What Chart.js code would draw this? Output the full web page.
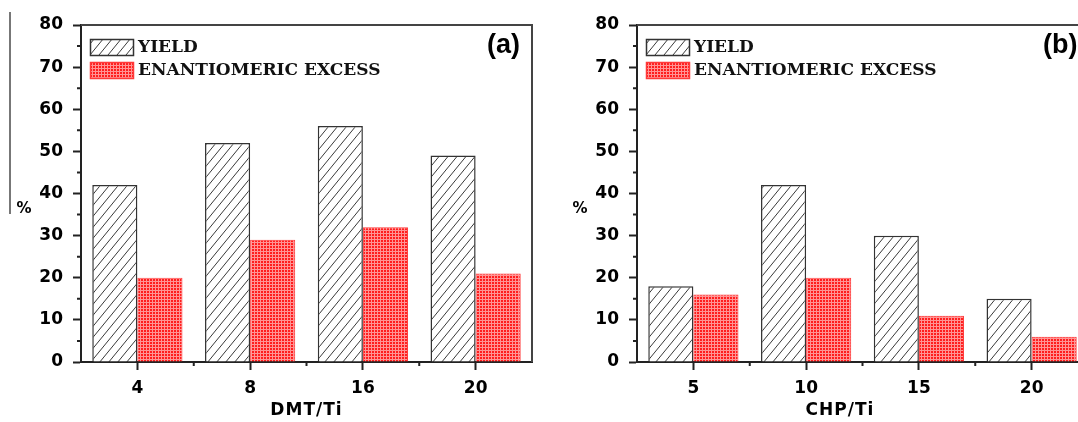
<!DOCTYPE html>
<html>
<head>
<meta charset="utf-8">
<script src="https://cdn.jsdelivr.net/npm/chart.js@4.4.1/dist/chart.umd.min.js"></script>
<style>
  html, body { margin: 0; padding: 0; background: #fff; overflow: hidden; width: 1078px; height: 422px; }
  .panel { position: absolute; top: 0; width: 545px; height: 422px; }
  #pa { left: 0; }
  #pb { left: 556px; }
</style>
</head>
<body>
<div class="panel" id="pa"><canvas id="ca" width="545" height="422"></canvas></div>
<div class="panel" id="pb"><canvas id="cb" width="545" height="422"></canvas></div>
<script>
// Series names shared by both panels
const seriesNames = ['YIELD', 'ENANTIOMERIC EXCESS'];

// Panel (a): effect of DMT/Ti ratio
const dmtLabels = ['4', '8', '16', '20'];
const dmtYield  = [42, 52, 56, 49];
const dmtEE     = [20, 29, 32, 21];

// Panel (b): effect of CHP/Ti ratio
const chpLabels = ['5', '10', '15', '20'];
const chpYield  = [18, 42, 30, 15];
const chpEE     = [16, 20, 11, 6];

// Y axis major tick values (%)
const yTickValues = [0, 10, 20, 30, 40, 50, 60, 70, 80];

const TICK_FONT = { family: 'DejaVu Sans', weight: 'bold', size: 17 };
const AXIS_COLOR = '#222';

// Diagonal hatch fill for the yield bars
function hatchPattern() {
  const c = document.createElement('canvas');
  c.width = 9; c.height = 11;
  const g = c.getContext('2d');
  g.fillStyle = '#fff';
  g.fillRect(0, 0, 9, 11);
  g.strokeStyle = '#3a3a3a';
  g.lineWidth = 1;
  g.beginPath();
  for (const dx of [-9, 0, 9]) {
    g.moveTo(dx, 11);
    g.lineTo(dx + 9, 0);
  }
  g.stroke();
  return g.createPattern(c, 'repeat');
}

// Fine red grid fill for the enantiomeric excess bars
function gridPattern() {
  const c = document.createElement('canvas');
  c.width = 3; c.height = 3;
  const g = c.getContext('2d');
  g.fillStyle = '#ff1e1e';
  g.fillRect(0, 0, 3, 3);
  g.fillStyle = '#ff9494';
  g.fillRect(0, 2, 3, 1);
  g.fillRect(2, 0, 1, 3);
  return g.createPattern(c, 'repeat');
}

const hatchFill = hatchPattern();
const gridFill = gridPattern();

// Frame, minor ticks, in-plot legend, panel tag and axis titles
const panelDecor = {
  id: 'panelDecor',
  afterDraw(chart, args, opts) {
    const ctx = chart.ctx;
    const a = chart.chartArea;
    const xs = chart.scales.x, ys = chart.scales.y;
    ctx.save();

    // top and right frame lines
    ctx.strokeStyle = '#444';
    ctx.lineWidth = 2;
    ctx.beginPath();
    ctx.moveTo(a.left, a.top);
    ctx.lineTo(a.right, a.top);
    ctx.lineTo(a.right, a.bottom);
    ctx.stroke();

    // minor y ticks halfway between major ticks
    ctx.strokeStyle = AXIS_COLOR;
    ctx.lineWidth = 2;
    ctx.beginPath();
    const yt = ys.ticks;
    for (let i = 0; i < yt.length - 1; i++) {
      const p = ys.getPixelForValue((yt[i].value + yt[i + 1].value) / 2);
      ctx.moveTo(a.left - 4, p);
      ctx.lineTo(a.left, p);
    }
    // minor x ticks on category boundaries
    for (let i = 0; i < chart.data.labels.length - 1; i++) {
      const p = (xs.getPixelForValue(i) + xs.getPixelForValue(i + 1)) / 2;
      ctx.moveTo(p, a.bottom);
      ctx.lineTo(p, a.bottom + 4);
    }
    ctx.stroke();

    // legend inside the plot area
    ctx.font = 'bold 17px "DejaVu Serif"';
    ctx.textBaseline = 'middle';
    ctx.textAlign = 'left';
    chart.data.datasets.forEach((ds, i) => {
      const bx = a.left + 9;
      const by = a.top + 14 + i * 23;
      ctx.fillStyle = ds.backgroundColor;
      ctx.fillRect(bx, by, 43, 16);
      ctx.strokeStyle = ds.borderColor;
      ctx.lineWidth = 1.5;
      ctx.strokeRect(bx + 0.5, by + 0.5, 43, 16);
      ctx.fillStyle = '#111';
      ctx.fillText(ds.label, a.left + 57, by + 9);
    });

    // panel tag
    ctx.font = 'bold 27px "Liberation Sans"';
    ctx.textAlign = 'left';
    ctx.textBaseline = 'top';
    ctx.fillStyle = '#000';
    ctx.fillText(opts.tag, a.left + 406, a.top + 7);

    // x axis title
    ctx.font = 'bold 17px "DejaVu Sans"';
    ctx.letterSpacing = '1px';
    ctx.textAlign = 'center';
    ctx.textBaseline = 'middle';
    ctx.fillText(opts.xTitle, a.left + (a.right - a.left) * opts.xTitleAt, a.bottom + 49);

    // y axis title
    ctx.letterSpacing = '0px';
    ctx.font = 'bold 15px "DejaVu Sans"';
    ctx.fillText(opts.yTitle, a.left - 57, a.top + 184);

    // rule at the far left of the figure
    if (opts.sideRule) {
      ctx.strokeStyle = '#777';
      ctx.lineWidth = 2;
      ctx.beginPath();
      ctx.moveTo(10, 12);
      ctx.lineTo(10, 214);
      ctx.stroke();
    }
    ctx.restore();
  }
};

function makeChart(id, labels, yieldVals, eeVals, decor) {
  return new Chart(document.getElementById(id), {
    type: 'bar',
    data: {
      labels: labels,
      datasets: [
        { label: seriesNames[0], data: yieldVals, backgroundColor: hatchFill,
          borderColor: '#333', borderWidth: 1.5 },
        { label: seriesNames[1], data: eeVals, backgroundColor: gridFill,
          borderColor: '#ff3a3a', borderWidth: 1 }
      ]
    },
    options: {
      responsive: false,
      animation: false,
      devicePixelRatio: 1,
      categoryPercentage: 0.8,
      barPercentage: 1.0,
      layout: { padding: { left: 0, top: 25, right: 13, bottom: 0 } },
      plugins: {
        legend: { display: false },
        tooltip: { enabled: false },
        panelDecor: decor
      },
      scales: {
        x: {
          afterFit: s => { s.height = 60; },
          grid: { drawOnChartArea: false, offset: false, tickLength: 8, tickWidth: 2, color: AXIS_COLOR },
          border: { color: AXIS_COLOR, width: 2 },
          ticks: { font: TICK_FONT, color: '#000', padding: 8, maxRotation: 0 }
        },
        y: {
          min: 0, max: 80,
          afterBuildTicks: s => { s.ticks = yTickValues.map(v => ({ value: v })); },
          afterFit: s => { s.width = 81; },
          grid: { drawOnChartArea: false, tickLength: 8, tickWidth: 2, color: AXIS_COLOR },
          border: { color: AXIS_COLOR, width: 2 },
          ticks: { font: TICK_FONT, color: '#000', padding: 10 }
        }
      }
    },
    plugins: [panelDecor]
  });
}

makeChart('ca', dmtLabels, dmtYield, dmtEE,
  { tag: '(a)', xTitle: 'DMT/Ti', yTitle: '%', xTitleAt: 0.5, sideRule: true });
makeChart('cb', chpLabels, chpYield, chpEE,
  { tag: '(b)', xTitle: 'CHP/Ti', yTitle: '%', xTitleAt: 0.45, sideRule: false });
</script>
</body>
</html>
